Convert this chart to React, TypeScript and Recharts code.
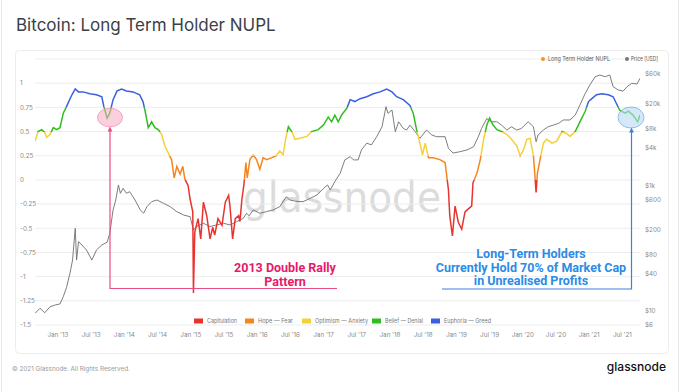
import React from "react";
import { LineChart, Line, XAxis, YAxis, CartesianGrid } from "recharts";

// LTH-NUPL, x in decimal years
const nuplDates = [
  2012.654, 2012.7, 2012.755, 2012.8, 2012.83, 2012.88, 2012.93, 2012.98, 2013.03, 2013.08,
  2013.13, 2013.21, 2013.26, 2013.31, 2013.38, 2013.48, 2013.58, 2013.66, 2013.69, 2013.74,
  2013.78, 2013.83, 2013.89, 2013.96, 2014.03, 2014.13, 2014.23, 2014.28, 2014.31, 2014.36,
  2014.41, 2014.46, 2014.51, 2014.56, 2014.61, 2014.66, 2014.71, 2014.75, 2014.79, 2014.84,
  2014.88, 2014.91, 2014.96, 2014.99, 2015.03, 2015.04, 2015.06, 2015.11, 2015.15, 2015.19,
  2015.24, 2015.29, 2015.33, 2015.36, 2015.41, 2015.47, 2015.52, 2015.57, 2015.59, 2015.63,
  2015.67, 2015.72, 2015.74, 2015.77, 2015.8, 2015.83, 2015.85, 2015.89, 2015.94, 2015.99,
  2016.04, 2016.09, 2016.14, 2016.22, 2016.29, 2016.34, 2016.39, 2016.43, 2016.47, 2016.52,
  2016.57, 2016.64, 2016.75, 2016.82, 2016.92, 2017.0, 2017.07, 2017.12, 2017.17, 2017.22,
  2017.27, 2017.35, 2017.4, 2017.47, 2017.55, 2017.65, 2017.75, 2017.85, 2017.95, 2018.03,
  2018.1, 2018.2, 2018.3, 2018.35, 2018.4, 2018.45, 2018.49, 2018.53, 2018.58, 2018.65,
  2018.75, 2018.83, 2018.88, 2018.9, 2018.94, 2018.98, 2019.03, 2019.08, 2019.13, 2019.18,
  2019.23, 2019.25, 2019.31, 2019.36, 2019.41, 2019.46, 2019.5, 2019.55, 2019.61, 2019.68,
  2019.76, 2019.83, 2019.91, 2019.96, 2020.01, 2020.06, 2020.11, 2020.16, 2020.18, 2020.2,
  2020.22, 2020.26, 2020.31, 2020.36, 2020.44, 2020.51, 2020.59, 2020.66, 2020.71, 2020.79,
  2020.86, 2020.94, 2020.99, 2021.04, 2021.11, 2021.19, 2021.29, 2021.36, 2021.41, 2021.46,
  2021.54, 2021.59, 2021.66, 2021.73, 2021.765,
];
const nuplValues = [
  0.4, 0.5, 0.52, 0.49, 0.44, 0.47, 0.54, 0.52, 0.54, 0.69,
  0.76, 0.88, 0.94, 0.91, 0.91, 0.89, 0.88, 0.86, 0.76, 0.64,
  0.69, 0.83, 0.92, 0.94, 0.92, 0.91, 0.88, 0.81, 0.72, 0.54,
  0.6, 0.54, 0.52, 0.47, 0.35, 0.28, 0.21, 0.02, 0.14, 0.06,
  0.14, 0.01, -0.06, -0.2, -0.33, -1.17, -0.54, -0.4, -0.61, -0.23,
  -0.37, -0.61, -0.49, -0.57, -0.4, -0.47, -0.23, -0.16, -0.27, -0.61,
  -0.4, -0.37, -0.43, -0.2, -0.05, 0.18, 0.02, 0.21, 0.26, 0.21,
  0.11, 0.23, 0.21, 0.23, 0.25, 0.3, 0.26, 0.43, 0.55, 0.5,
  0.42, 0.43, 0.45, 0.5, 0.52, 0.57, 0.65, 0.6, 0.67, 0.6,
  0.67, 0.74, 0.83, 0.81, 0.84, 0.86, 0.89, 0.91, 0.94, 0.91,
  0.86, 0.83, 0.77, 0.69, 0.52, 0.38, 0.26, 0.38, 0.23, 0.23,
  0.21, 0.18, -0.1, -0.37, -0.58, -0.27, -0.44, -0.51, -0.33, -0.3,
  -0.27, -0.03, 0.07, 0.21, 0.42, 0.57, 0.64, 0.57, 0.52, 0.5,
  0.47, 0.42, 0.35, 0.25, 0.31, 0.42, 0.43, 0.25, 0.07, -0.13,
  0.07, 0.21, 0.38, 0.42, 0.38, 0.4, 0.5, 0.48, 0.45, 0.5,
  0.6, 0.71, 0.81, 0.84, 0.88, 0.89, 0.88, 0.86, 0.79, 0.72,
  0.69, 0.71, 0.67, 0.6, 0.67,
];

// BTC price (USD)
const priceDates = [
  2012.654, 2012.73, 2012.8, 2012.88, 2012.96, 2013.03, 2013.08, 2013.13, 2013.18, 2013.22,
  2013.26, 2013.28, 2013.31, 2013.36, 2013.43, 2013.51, 2013.58, 2013.66, 2013.74, 2013.78,
  2013.83, 2013.87, 2013.91, 2013.94, 2013.98, 2014.03, 2014.08, 2014.16, 2014.24, 2014.29,
  2014.34, 2014.41, 2014.49, 2014.59, 2014.69, 2014.79, 2014.89, 2014.99, 2015.04, 2015.09,
  2015.19, 2015.29, 2015.39, 2015.49, 2015.59, 2015.69, 2015.79, 2015.84, 2015.88, 2015.94,
  2016.04, 2016.14, 2016.24, 2016.34, 2016.44, 2016.49, 2016.6, 2016.69, 2016.8, 2016.9,
  2017.0, 2017.06, 2017.1, 2017.17, 2017.25, 2017.32, 2017.4, 2017.45, 2017.52, 2017.57,
  2017.65, 2017.72, 2017.8, 2017.88, 2017.94, 2017.97, 2018.03, 2018.08, 2018.13, 2018.2,
  2018.25, 2018.3, 2018.38, 2018.45, 2018.55, 2018.63, 2018.7, 2018.83, 2018.88, 2018.95,
  2019.05, 2019.16, 2019.26, 2019.33, 2019.38, 2019.46, 2019.48, 2019.53, 2019.61, 2019.68,
  2019.76, 2019.83, 2019.91, 2019.98, 2020.08, 2020.16, 2020.2, 2020.23, 2020.31, 2020.38,
  2020.46, 2020.54, 2020.61, 2020.71, 2020.79, 2020.86, 2020.94, 2021.01, 2021.09, 2021.16,
  2021.24, 2021.31, 2021.36, 2021.44, 2021.51, 2021.57, 2021.64, 2021.72, 2021.765,
];
const priceValues = [
  9.2, 11.1, 9.4, 11.7, 12.5, 13, 17, 24, 40, 65,
  208, 65, 128, 113, 94, 65, 94, 113, 125, 173,
  409, 589, 1022, 754, 904, 754, 798, 589, 409, 362,
  461, 553, 589, 522, 461, 384, 340, 319, 196, 222,
  251, 222, 236, 251, 236, 266, 300, 362, 330, 409,
  362, 384, 409, 461, 666, 589, 560, 553, 627, 708,
  904, 1022, 849, 1157, 1577, 2564, 2897, 2564, 2564, 3700,
  4740, 4450, 6010, 8650, 18060, 14160, 16000, 7210, 10400, 8160,
  7670, 9200, 7210, 5670, 7670, 6400, 6010, 6010, 3930, 3300,
  3460, 3700, 4170, 6010, 8160, 11790, 11100, 10400, 10400, 9200,
  7670, 8650, 7670, 8160, 10400, 8650, 5000, 6400, 7670, 8650,
  9200, 9820, 11100, 11100, 13320, 19200, 29400, 40000, 54300, 57800,
  54300, 57800, 37600, 33300, 32000, 37600, 42600, 41500, 51200,
];

const xTicks = [
  2013, 2013.5, 2014, 2014.5, 2015, 2015.5, 2016, 2016.5, 2017, 2017.5,
  2018, 2018.5, 2019, 2019.5, 2020, 2020.5, 2021, 2021.5,
];
const xTickLabels = [
  "Jan '13", "Jul '13", "Jan '14", "Jul '14", "Jan '15", "Jul '15", "Jan '16", "Jul '16", "Jan '17",
  "Jul '17", "Jan '18", "Jul '18", "Jan '19", "Jul '19", "Jan '20", "Jul '20", "Jan '21", "Jul '21",
];
const nuplTicks = [-1.5, -1.25, -1, -0.75, -0.5, -0.25, 0, 0.25, 0.5, 0.75, 1];
const priceTicks = [6, 10, 40, 80, 200, 600, 1000, 4000, 8000, 20000, 60000];
const priceTickLabels = ["$6", "$10", "$40", "$80", "$200", "$600", "$1k", "$4k", "$8k", "$20k", "$60k"];

const zoneNames = ["Capitulation", "Hope — Fear", "Optimism — Anxiety", "Belief — Denial", "Euphoria — Greed"];
const zoneColors = ["#e8332f", "#f5861f", "#f3d138", "#2fbe22", "#3a5fe0"];
const zoneThresholds = [0, 0.25, 0.5, 0.75];

const nuplData = nuplDates.map((t, i) => ({ t, v: nuplValues[i] }));
const priceData = priceDates.map((t, i) => ({ t, p: priceValues[i] }));

const W = 680;
const H = 392;
const TOP = 59;
const BOTTOM = 325;
const LEFT = 35;
const RIGHT = 640;
const NUPL_MIN = -1.5;
const NUPL_MAX = 1.25;
const FONT = "Inter, 'Noto Sans', sans-serif";

const off = (v: number) => (NUPL_MAX - v) / (NUPL_MAX - NUPL_MIN);

const LeftTick = (props: any) => (
  <text x={20} y={props.y + 2.3} fontSize={6.3} fill="#8a8a8a" fontFamily={FONT}>
    {String(props.payload.value)}
  </text>
);

const RightTick = (props: any) => (
  <text x={645} y={props.y + 2.3} fontSize={6.3} fill="#8a8a8a" fontFamily={FONT}>
    {priceTickLabels[priceTicks.indexOf(props.payload.value)]}
  </text>
);

const BottomTick = (props: any) => (
  <text x={props.x} y={337} fontSize={6.3} fill="#8a8a8a" fontFamily={FONT} textAnchor="middle">
    {xTickLabels[xTicks.indexOf(props.payload.value)]}
  </text>
);

const legendX = [194, 245, 302, 372, 431];
const legendTextW = [30, 35, 53, 38, 47];

export default function App() {
  // gradient stops: top = euphoria (blue) down to capitulation (red)
  const stops: React.ReactNode[] = [];
  const colorsTopDown = [...zoneColors].reverse();
  const thTopDown = [...zoneThresholds].reverse();
  let prev = 0;
  colorsTopDown.forEach((c, i) => {
    const end = i < thTopDown.length ? off(thTopDown[i]) : 1;
    stops.push(<stop key={`a${i}`} offset={prev} stopColor={c} />);
    stops.push(<stop key={`b${i}`} offset={end} stopColor={c} />);
    prev = end;
  });

  return (
    <div style={{ position: "absolute", left: 0, top: 0, width: W, height: H, background: "#fff", overflow: "hidden" }}>
      <svg width={W} height={H} style={{ position: "absolute", left: 0, top: 0 }}>
        <line x1={1.5} y1={0} x2={1.5} y2={H} stroke="#e9e9e9" />
        <line x1={678.5} y1={0} x2={678.5} y2={H} stroke="#e9e9e9" />
        <rect x={15.5} y={50.5} width={653} height={303} rx={4} fill="none" stroke="#ededed" />
        <text x={342} y={212} fontSize={42} fill="#dcdcdc" textAnchor="middle" fontFamily="'DejaVu Sans', sans-serif" textLength={198} lengthAdjust="spacingAndGlyphs">
          glassnode
        </text>
      </svg>

      <div style={{ position: "absolute", left: 0, top: 0 }}>
        <LineChart width={W} height={H} margin={{ top: TOP, right: W - RIGHT - 1, bottom: H - BOTTOM - 10, left: LEFT - 1 }}>
          <defs>
            <linearGradient id="nuplGrad" gradientUnits="userSpaceOnUse" x1={0} y1={TOP} x2={0} y2={BOTTOM}>
              {stops}
            </linearGradient>
          </defs>
          <CartesianGrid yAxisId="nupl" vertical={false} stroke="#ededed" />
          <XAxis
            dataKey="t"
            type="number"
            domain={[2012.654, 2021.765]}
            ticks={xTicks}
            interval={0}
            height={10}
            axisLine={false}
            tickLine={false}
            tick={BottomTick}
            allowDataOverflow
          />
          <YAxis
            yAxisId="nupl"
            type="number"
            domain={[NUPL_MIN, NUPL_MAX]}
            ticks={nuplTicks}
            interval={0}
            width={1}
            axisLine={false}
            tickLine={false}
            tick={LeftTick}
            allowDataOverflow
          />
          <YAxis
            yAxisId="price"
            orientation="right"
            type="number"
            scale="log"
            domain={[6, 104000]}
            ticks={priceTicks}
            interval={0}
            width={1}
            axisLine={false}
            tickLine={false}
            tick={RightTick}
            allowDataOverflow
          />
          <Line
            yAxisId="price"
            data={priceData}
            dataKey="p"
            type="linear"
            stroke="#6e6e6e"
            strokeWidth={0.9}
            dot={false}
            isAnimationActive={false}
          />
          <Line
            yAxisId="nupl"
            data={nuplData}
            dataKey="v"
            type="linear"
            stroke="url(#nuplGrad)"
            strokeWidth={1.5}
            dot={false}
            isAnimationActive={false}
          />
        </LineChart>
      </div>

      <svg width={W} height={H} style={{ position: "absolute", left: 0, top: 0, pointerEvents: "none" }}>
        <text x={16} y={31} fontSize={17} fill="#3b3f48" fontFamily={FONT}>
          Bitcoin: Long Term Holder NUPL
        </text>

        {/* top legend */}
        <circle cx={543} cy={59} r={2} fill="#f7931a" />
        <text x={548} y={61.2} fontSize={6} fill="#555" fontFamily={FONT} textLength={62} lengthAdjust="spacingAndGlyphs">Long Term Holder NUPL</text>
        <circle cx={627} cy={59} r={2} fill="#777" />
        <text x={631} y={61.2} fontSize={6} fill="#555" fontFamily={FONT} textLength={27} lengthAdjust="spacingAndGlyphs">Price [USD]</text>

        {/* zone legend */}
        {zoneNames.map((n, i) => (
          <g key={n}>
            <rect x={legendX[i]} y={318.5} width={9} height={5} fill={zoneColors[i]} />
            <text x={legendX[i] + 13} y={323} fontSize={6} fill="#777" fontFamily={FONT} textLength={legendTextW[i]} lengthAdjust="spacingAndGlyphs">{n}</text>
          </g>
        ))}

        {/* 2013 annotation */}
        <ellipse cx={110} cy={117.5} rx={12.5} ry={9.3} fill="#f6a9c4" fillOpacity={0.55} stroke="#f38fb3" strokeWidth={0.8} />
        <polyline points="110,129 110,288.5 337,288.5" fill="none" stroke="#ea4c84" strokeWidth={1.2} />
        <polygon points="110,126.5 107.6,131.5 112.4,131.5" fill="#ea4c84" />
        <text x={285} y={272} fontSize={12.5} fontWeight={700} fill="#e6196b" textAnchor="middle" fontFamily="Roboto, sans-serif">
          2013 Double Rally
        </text>
        <text x={285} y={285.5} fontSize={12.5} fontWeight={700} fill="#e6196b" textAnchor="middle" fontFamily="Roboto, sans-serif">
          Pattern
        </text>

        {/* current annotation */}
        <ellipse cx={631} cy={117.5} rx={13} ry={10.5} fill="#b9d8f3" fillOpacity={0.6} stroke="#7fb0e3" strokeWidth={0.8} />
        <polyline points="631.5,130 631.5,289 442,289" fill="none" stroke="#3f7fe0" strokeWidth={1.2} />
        <polygon points="631.5,127.5 629.1,132.5 633.9,132.5" fill="#3f7fe0" />
        <text x={531} y={258} fontSize={12.5} fontWeight={700} fill="#2b8be6" textAnchor="middle" fontFamily="Roboto, sans-serif">
          Long-Term Holders
        </text>
        <text x={531} y={271.5} fontSize={12.5} fontWeight={700} fill="#2b8be6" textAnchor="middle" fontFamily="Roboto, sans-serif">
          Currently Hold 70% of Market Cap
        </text>
        <text x={531} y={285} fontSize={12.5} fontWeight={700} fill="#2b8be6" textAnchor="middle" fontFamily="Roboto, sans-serif">
          in Unrealised Profits
        </text>

        {/* footer */}
        <text x={12} y={370.5} fontSize={6.3} fill="#9a9a9a" fontFamily={FONT}>© 2021 Glassnode. All Rights Reserved.</text>
        <text x={666} y={371} fontSize={12} fontWeight={500} fill="#111" textAnchor="end" fontFamily={FONT}>glassnode</text>
      </svg>
    </div>
  );
}
